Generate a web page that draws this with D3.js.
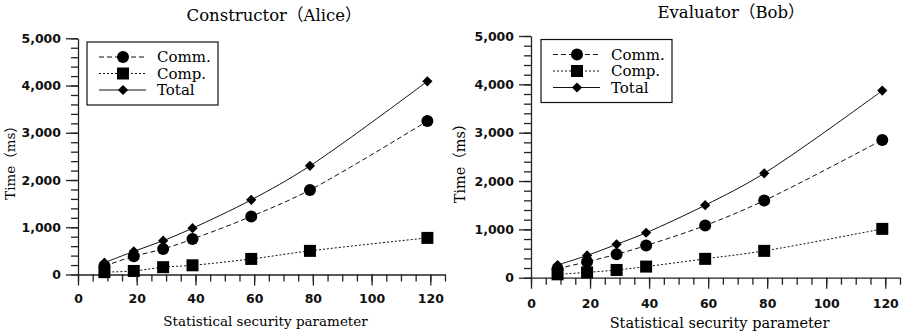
<!DOCTYPE html>
<html>
<head>
<meta charset="utf-8">
<script src="https://cdn.jsdelivr.net/npm/d3@7"></script>
<style>
  body { margin: 0; background: #fff; }
  svg { display: block; }
</style>
</head>
<body>
<script>
// x values (statistical security parameter)
const params = [9, 19, 29, 39, 59, 79, 119];

// Constructor (Alice), ms
const aliceComm  = [180, 385, 540, 750, 1230, 1790, 3250];
const aliceComp  = [50, 75, 155, 195, 330, 500, 775];
const aliceTotal = [250, 490, 715, 980, 1580, 2300, 4090];

// Evaluator (Bob), ms
const bobComm  = [185, 330, 485, 665, 1080, 1595, 2850];
const bobComp  = [70, 110, 160, 230, 390, 555, 1010];
const bobTotal = [263, 460, 690, 930, 1500, 2160, 3870];

const xTicks = [0, 20, 40, 60, 80, 100, 120];
const yTicks = [0, 1000, 2000, 3000, 4000, 5000];
const seriesNames = ['Comm.', 'Comp.', 'Total'];

const svg = d3.select('body').append('svg')
  .attr('width', 904)
  .attr('height', 333)

const serif = '"DejaVu Serif", "Noto Sans CJK SC", serif'
const sans = '"DejaVu Sans", sans-serif'
const dashes = ['5,3', '2,2', null]

function marker(sel, kind) {
  if (kind === 0) {
    sel.append('circle').attr('r', 6)
  } else if (kind === 1) {
    sel.append('rect').attr('x', -6).attr('y', -6).attr('width', 12).attr('height', 12)
  } else {
    sel.append('path').attr('d', d3.symbol(d3.symbolSquare, 52)()).attr('transform', 'rotate(45)')
  }
}

function drawPanel(p) {
  const x = d3.scaleLinear().domain([0, 125]).range([p.left, p.right])
  const y = d3.scaleLinear().domain([0, 5000]).range([p.bottom, p.top])
  const g = svg.append('g')

  // minor ticks
  g.append('g')
    .attr('transform', `translate(0, ${p.bottom})`)
    .call(d3.axisBottom(x).tickValues(d3.range(0, 126, 5)).tickSize(7).tickFormat(''))
    .call(a => a.select('.domain').remove())
  g.append('g')
    .attr('transform', `translate(${p.left}, 0)`)
    .call(d3.axisLeft(y).tickValues(d3.range(0, 5001, 200)).tickSize(7).tickFormat(''))
    .call(a => a.select('.domain').remove())

  // major ticks
  g.append('g')
    .attr('transform', `translate(0, ${p.bottom})`)
    .call(d3.axisBottom(x).tickValues(xTicks).tickSize(11).tickSizeOuter(0).tickPadding(p.xPad))
  g.append('g')
    .attr('transform', `translate(${p.left}, 0)`)
    .call(d3.axisLeft(y).tickValues(yTicks).tickSize(12).tickSizeOuter(0).tickPadding(5).tickFormat(d3.format(',')))

  g.selectAll('.tick line, .domain').attr('stroke', '#222').attr('stroke-width', 1.3)
  g.selectAll('.tick text')
    .attr('fill', '#111')
    .style('font-family', sans)
    .style('font-weight', 'bold')
    .style('font-size', p.tickFont + 'px')

  // titles
  g.append('text')
    .attr('x', p.titleX).attr('y', p.titleY)
    .attr('text-anchor', 'middle')
    .style('font-family', serif).style('font-size', p.titleFont + 'px')
    .text(p.title)
  g.append('text')
    .attr('x', (p.left + p.right) / 2 + 4).attr('y', p.xLabelY)
    .attr('text-anchor', 'middle')
    .style('font-family', serif).style('font-size', p.labelFont + 'px')
    .text('Statistical security parameter')
  g.append('text')
    .attr('transform', `translate(${p.yLabelX}, ${(p.top + p.bottom) / 2 + 3}) rotate(-90)`)
    .attr('text-anchor', 'middle')
    .style('font-family', serif).style('font-size', p.labelFont + 'px')
    .text('Time（ms）')

  // series
  const line = d3.line()
    .x((d, i) => x(params[i]))
    .y(d => y(d))
    .curve(d3.curveCatmullRom)
  p.series.forEach((vals, k) => {
    g.append('path')
      .attr('d', line(vals))
      .attr('fill', 'none')
      .attr('stroke', '#111')
      .attr('stroke-width', 1)
      .attr('stroke-dasharray', dashes[k])
  })
  p.series.forEach((vals, k) => {
    g.selectAll(null)
      .data(vals)
      .enter().append('g')
        .attr('transform', (d, i) => `translate(${x(params[i])}, ${y(d)})`)
        .attr('fill', '#000')
        .each(function() { marker(d3.select(this), k) })
  })

  // legend
  const lg = g.append('g').attr('transform', `translate(${p.legX}, ${p.legY})`)
  lg.append('rect')
    .attr('width', 131).attr('height', 63)
    .attr('fill', '#fff').attr('stroke', '#111').attr('stroke-width', 1.2)
  seriesNames.forEach((name, k) => {
    const row = lg.append('g').attr('transform', `translate(0, ${15 + k * 16.5})`)
    row.append('line')
      .attr('x1', 12).attr('x2', 59)
      .attr('stroke', '#111').attr('stroke-width', 1)
      .attr('stroke-dasharray', dashes[k])
    const m = row.append('g').attr('transform', 'translate(36, 0)').attr('fill', '#000')
    marker(m, k)
    row.append('text')
      .attr('x', 70).attr('y', 5)
      .style('font-family', serif).style('font-size', p.legFont + 'px')
      .text(name)
  })
}

drawPanel({
  title: 'Constructor（Alice）',
  left: 78, right: 445, top: 38.3, bottom: 274.5,
  titleX: 274, titleY: 21, titleFont: 16.5,
  xLabelY: 326, yLabelX: 15, labelFont: 13.5, tickFont: 12.5, xPad: 9,
  legX: 87, legY: 42, legFont: 15,
  series: [aliceComm, aliceComp, aliceTotal]
})

drawPanel({
  title: 'Evaluator（Bob）',
  left: 531, right: 900, top: 36, bottom: 277.7,
  titleX: 731, titleY: 18, titleFont: 16.5,
  xLabelY: 328, yLabelX: 465, labelFont: 14.5, tickFont: 12.5, xPad: 10,
  legX: 541, legY: 39.5, legFont: 15,
  series: [bobComm, bobComp, bobTotal]
})
</script>
</body>
</html>
